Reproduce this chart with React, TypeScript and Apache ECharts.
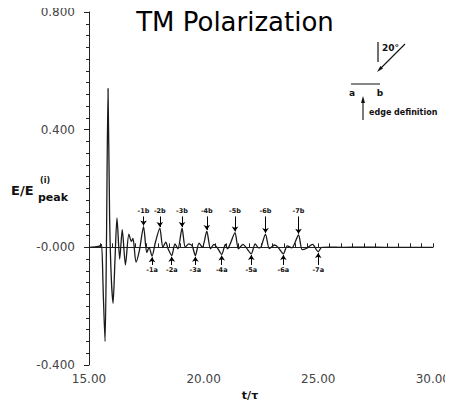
import React, { useEffect, useRef } from 'react';
import * as echarts from 'echarts';

// waveform E/E_peak vs t/tau
const times = [
  15.0, 15.4, 15.5, 15.55, 15.62, 15.7, 15.76, 15.83, 15.9, 15.97, 16.05, 16.13, 16.22, 16.34, 16.45, 16.59,
  16.74, 16.85, 16.92, 17.05, 17.2, 17.38, 17.52, 17.62, 17.75, 17.9, 18.09, 18.22, 18.35, 18.45, 18.61, 18.75,
  18.88, 19.06, 19.2, 19.35, 19.5, 19.64, 19.8, 19.95, 20.14, 20.3, 20.45, 20.6, 20.79, 20.95, 21.05, 21.15,
  21.37, 21.52, 21.72, 21.85, 22.08, 22.25, 22.4, 22.5, 22.7, 22.87, 23.1, 23.25, 23.48, 23.65, 23.85, 24.14,
  24.3, 24.5, 24.75, 25.0, 25.15, 25.5, 26.0, 27.0, 28.0, 29.0, 30.0,
];
const values = [
  0.0, 0.003, 0.006, 0.01, -0.15, -0.32, 0.0, 0.54, 0.1, -0.1, -0.19, -0.05, 0.1, -0.04, 0.06, -0.06,
  0.045, 0.02, 0.03, -0.05, -0.01, 0.07, -0.018, 0.0, -0.03, 0.018, 0.065, 0.0, 0.018, -0.005, -0.028, 0.012,
  -0.005, 0.065, 0.0, 0.012, 0.005, -0.028, 0.014, 0.0, 0.055, -0.005, 0.01, -0.002, -0.024, 0.01, -0.005, 0.01,
  0.05, -0.005, 0.01, 0.0, -0.022, 0.012, -0.002, 0.0, 0.045, -0.004, 0.008, 0.0, -0.022, 0.005, -0.002, 0.042,
  -0.008, -0.003, 0.01, -0.015, 0.0, 0.001, 0.0, 0.001, 0.0, 0.0, 0.0,
];

const peakNames = ['-1b', '-2b', '-3b', '-4b', '-5b', '-6b', '-7b'];
const peakTimes = [17.38, 18.09, 19.06, 20.14, 21.37, 22.7, 24.14];
const valleyNames = ['-1a', '-2a', '-3a', '-4a', '-5a', '-6a', '-7a'];
const valleyTimes = [17.75, 18.61, 19.64, 20.79, 22.08, 23.48, 25.0];

const xTicks = [15, 20, 25, 30];
const yTicks = [-0.4, 0, 0.4, 0.8];

const valueAt = (t: number) => values[times.indexOf(t)];

export default function App() {
  const ref = useRef<HTMLDivElement>(null);
  useEffect(() => {
    if (!ref.current) return;
    const chart = echarts.init(ref.current, null, { renderer: 'svg' });
    const tickFont = { fontFamily: 'DejaVu Sans', fontSize: 12, color: '#444' };
    const bold = 'bold 9px "DejaVu Sans", sans-serif';

    const arrowLines: any[] = [];
    peakTimes.forEach((t, i) => {
      arrowLines.push([{ name: peakNames[i], coord: [t, 0.105] }, { coord: [t, valueAt(t) + 0.004] }]);
    });
    valleyTimes.forEach((t, i) => {
      arrowLines.push([{ name: valleyNames[i], coord: [t, -0.06] }, { coord: [t, valueAt(t) - 0.004] }]);
    });

    chart.setOption({
      animation: false,
      grid: { left: 89, right: 16, top: 12, bottom: 45, containLabel: false },
      xAxis: {
        type: 'value',
        min: xTicks[0],
        max: xTicks[xTicks.length - 1],
        interval: 5,
        axisLine: { show: true, lineStyle: { color: '#222', width: 1 } },
        axisTick: { show: true, inside: true, length: 4, lineStyle: { color: '#222' } },
        minorTick: { show: true, splitNumber: 10, length: 4, lineStyle: { color: '#222' } },
        splitLine: { show: false },
        axisLabel: { ...tickFont, margin: 8, formatter: (v: number) => v.toFixed(2) },
      },
      yAxis: {
        type: 'value',
        min: yTicks[0],
        max: yTicks[yTicks.length - 1],
        interval: 0.4,
        axisLine: { show: true, lineStyle: { color: '#222', width: 1 } },
        axisTick: { show: true, inside: false, length: 5, lineStyle: { color: '#222' } },
        minorTick: { show: true, splitNumber: 10, length: 3, lineStyle: { color: '#222' } },
        splitLine: { show: false },
        axisLabel: {
          ...tickFont,
          margin: 14,
          formatter: (v: number) => (Math.abs(v) < 1e-9 ? '-0.000' : v.toFixed(3)),
        },
      },
      series: [
        {
          type: 'line',
          data: times.map((t, i) => [t, values[i]]),
          showSymbol: false,
          smooth: 0.25,
          lineStyle: { color: '#1a1a1a', width: 1.3 },
          markLine: {
            silent: true,
            symbol: ['none', 'arrow'],
            symbolSize: 5,
            label: {
              show: true,
              position: 'start',
              distance: 2,
              formatter: (p: any) => p.name,
              fontSize: 6.5,
              fontWeight: 'bold',
              fontFamily: 'DejaVu Sans',
              color: '#111',
            },
            lineStyle: { color: '#000', width: 1, type: 'solid' },
            data: arrowLines,
          },
        },
      ],
      graphic: [
        {
          type: 'text',
          x: 235,
          y: 22,
          style: {
            text: 'TM Polarization',
            font: '26px "DejaVu Sans", sans-serif',
            fill: '#000',
            textAlign: 'center',
            textVerticalAlign: 'middle',
          },
        },
        // y axis title
        { type: 'text', x: 11, y: 190, style: { text: 'E/E', font: 'bold 13px "DejaVu Sans"', fill: '#111', textVerticalAlign: 'middle' } },
        { type: 'text', x: 40, y: 180, style: { text: '(i)', font: 'bold 8px "DejaVu Sans"', fill: '#111', textVerticalAlign: 'middle' } },
        { type: 'text', x: 38, y: 197, style: { text: 'peak', font: 'bold 11px "DejaVu Sans"', fill: '#111', textVerticalAlign: 'middle' } },
        // x axis title
        { type: 'text', x: 250, y: 395, style: { text: 't/τ', font: 'bold 11px "DejaVu Sans"', fill: '#111', textAlign: 'center', textVerticalAlign: 'middle' } },
        // inset: incidence angle
        { type: 'line', shape: { x1: 378, y1: 42, x2: 378, y2: 62 }, style: { stroke: '#111', lineWidth: 1.2 } },
        { type: 'text', x: 382, y: 48, style: { text: '20°', font: bold, fill: '#111', textVerticalAlign: 'middle' } },
        { type: 'line', shape: { x1: 405, y1: 44, x2: 381, y2: 68 }, style: { stroke: '#111', lineWidth: 1.1 } },
        { type: 'polygon', shape: { points: [[377, 72], [383, 68.6], [380.4, 66]] }, style: { fill: '#111' } },
        { type: 'line', shape: { x1: 351, y1: 84, x2: 380, y2: 84 }, style: { stroke: '#111', lineWidth: 1 } },
        { type: 'text', x: 352, y: 93, style: { text: 'a', font: bold, fill: '#111', textAlign: 'center', textVerticalAlign: 'middle' } },
        { type: 'text', x: 380, y: 93, style: { text: 'b', font: bold, fill: '#111', textAlign: 'center', textVerticalAlign: 'middle' } },
        { type: 'line', shape: { x1: 363, y1: 120, x2: 363, y2: 101 }, style: { stroke: '#111', lineWidth: 1.1 } },
        { type: 'polygon', shape: { points: [[363, 96], [361, 103], [365, 103]] }, style: { fill: '#111' } },
        { type: 'text', x: 369, y: 112, style: { text: 'edge definition', font: 'bold 8px "DejaVu Sans", sans-serif', fill: '#111', textVerticalAlign: 'middle' } },
      ],
    });
    return () => chart.dispose();
  }, []);
  return <div ref={ref} style={{ width: 453, height: 410, margin: -8 }} />;
}
